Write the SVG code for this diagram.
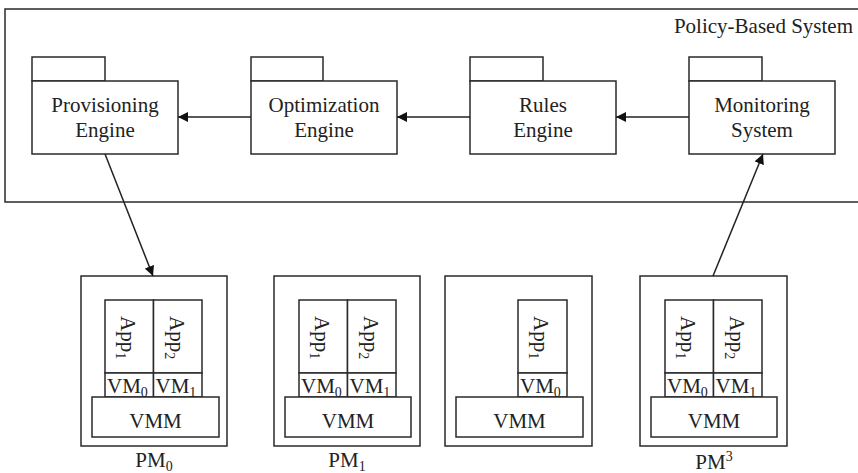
<svg xmlns="http://www.w3.org/2000/svg" width="858" height="473" viewBox="0 0 858 473">
<style>
.b{fill:#fff;stroke:#2a2a2a;stroke-width:1.5}
.t{font-family:"Liberation Serif","Times New Roman",serif;font-size:21px;fill:#222}
.c{text-anchor:middle}
.l{stroke:#222;stroke-width:1.5;fill:none}
</style>
<defs>
<marker id="ah" viewBox="0 0 10 10" refX="10" refY="5" markerWidth="10" markerHeight="10" markerUnits="userSpaceOnUse" orient="auto">
<path d="M0,0 L10,5 L0,10 Z" fill="#111"/>
</marker>
<g id="pmbox">
<rect class="b" x="0" y="0" width="146" height="170"/>
</g>
</defs>
<g id="system">
<rect class="b" x="5" y="9" width="862" height="193"/>
<text class="t" x="853" y="33" text-anchor="end">Policy-Based System</text>
</g>
<g id="provisioning">
<rect class="b" x="32" y="57" width="73" height="24"/>
<rect class="b" x="32" y="81" width="146" height="73"/>
<text class="t c" x="105" y="112">Provisioning</text>
<text class="t c" x="105" y="137">Engine</text>
</g>
<g id="optimization">
<rect class="b" x="251" y="57" width="72" height="24"/>
<rect class="b" x="251" y="81" width="146" height="73"/>
<text class="t c" x="324" y="112">Optimization</text>
<text class="t c" x="324" y="137">Engine</text>
</g>
<g id="rules">
<rect class="b" x="470" y="57" width="73" height="24"/>
<rect class="b" x="470" y="81" width="146" height="73"/>
<text class="t c" x="543" y="112">Rules</text>
<text class="t c" x="543" y="137">Engine</text>
</g>
<g id="monitoring">
<rect class="b" x="689" y="57" width="73" height="24"/>
<rect class="b" x="689" y="81" width="146" height="73"/>
<text class="t c" x="762" y="112">Monitoring</text>
<text class="t c" x="762" y="137">System</text>
</g>
<g id="pm0">
<rect class="b" x="81" y="276" width="146" height="170"/>
<rect class="b" x="105" y="300" width="48.5" height="73"/>
<rect class="b" x="153.5" y="300" width="48.5" height="73"/>
<rect class="b" x="105" y="373" width="48.5" height="24"/>
<rect class="b" x="153.5" y="373" width="48.5" height="24"/>
<rect class="b" x="92" y="397" width="127" height="40"/>
<text class="t" transform="translate(121,316) rotate(90)">App<tspan dy="5" font-size="14">1</tspan></text>
<text class="t" transform="translate(170,316) rotate(90)">App<tspan dy="5" font-size="14">2</tspan></text>
<text class="t" x="107" y="393">VM<tspan dy="4" font-size="14">0</tspan></text>
<text class="t" x="155.5" y="393">VM<tspan dy="4" font-size="14">1</tspan></text>
<text class="t c" x="155.5" y="428">VMM</text>
<text class="t c" x="154" y="467">PM<tspan dy="4" font-size="14">0</tspan></text>
</g>
<g id="pm1">
<rect class="b" x="274" y="276" width="146" height="170"/>
<rect class="b" x="299" y="300" width="48.5" height="73"/>
<rect class="b" x="347.5" y="300" width="48.5" height="73"/>
<rect class="b" x="299" y="373" width="48.5" height="24"/>
<rect class="b" x="347.5" y="373" width="48.5" height="24"/>
<rect class="b" x="285" y="397" width="126" height="40"/>
<text class="t" transform="translate(315,316) rotate(90)">App<tspan dy="5" font-size="14">1</tspan></text>
<text class="t" transform="translate(364,316) rotate(90)">App<tspan dy="5" font-size="14">2</tspan></text>
<text class="t" x="301" y="393">VM<tspan dy="4" font-size="14">0</tspan></text>
<text class="t" x="349.5" y="393">VM<tspan dy="4" font-size="14">1</tspan></text>
<text class="t c" x="348" y="428">VMM</text>
<text class="t c" x="347" y="467">PM<tspan dy="4" font-size="14">1</tspan></text>
</g>
<g id="pm2">
<rect class="b" x="445" y="276" width="147" height="170"/>
<rect class="b" x="518" y="300" width="49" height="73"/>
<rect class="b" x="518" y="373" width="49" height="24"/>
<rect class="b" x="456" y="397" width="127" height="40"/>
<text class="t" transform="translate(534,316) rotate(90)">App<tspan dy="5" font-size="14">1</tspan></text>
<text class="t" x="520" y="393">VM<tspan dy="4" font-size="14">0</tspan></text>
<text class="t c" x="519.5" y="428">VMM</text>
</g>
<g id="pm3">
<rect class="b" x="640" y="276" width="147" height="170"/>
<rect class="b" x="665" y="300" width="48.5" height="73"/>
<rect class="b" x="713.5" y="300" width="48.5" height="73"/>
<rect class="b" x="665" y="373" width="48.5" height="24"/>
<rect class="b" x="713.5" y="373" width="48.5" height="24"/>
<rect class="b" x="651" y="397" width="126" height="40"/>
<text class="t" transform="translate(681,316) rotate(90)">App<tspan dy="5" font-size="14">1</tspan></text>
<text class="t" transform="translate(730,316) rotate(90)">App<tspan dy="5" font-size="14">2</tspan></text>
<text class="t" x="667" y="393">VM<tspan dy="4" font-size="14">0</tspan></text>
<text class="t" x="715.5" y="393">VM<tspan dy="4" font-size="14">1</tspan></text>
<text class="t c" x="714" y="428">VMM</text>
<text class="t c" x="714" y="469">PM<tspan dy="-8" font-size="14">3</tspan></text>
</g>
<g id="connectors">
<line class="l" x1="251" y1="117" x2="178" y2="117" marker-end="url(#ah)"/>
<line class="l" x1="470" y1="117" x2="397" y2="117" marker-end="url(#ah)"/>
<line class="l" x1="689" y1="117" x2="616" y2="117" marker-end="url(#ah)"/>
<line class="l" x1="105" y1="154" x2="153" y2="276" marker-end="url(#ah)"/>
<line class="l" x1="713" y1="276" x2="763" y2="154" marker-end="url(#ah)"/>
</g>
</svg>
